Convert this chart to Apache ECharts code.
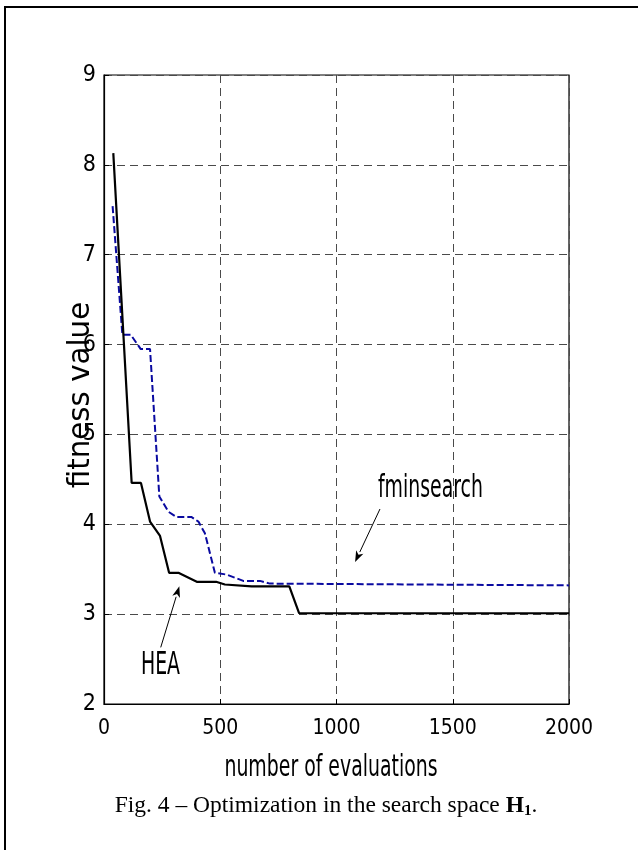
<!DOCTYPE html>
<html>
<head>
<meta charset="utf-8">
<script src="https://cdn.jsdelivr.net/npm/echarts@6/dist/echarts.min.js"></script>
<style>
html,body{margin:0;padding:0;background:#fff;}
#chart{width:638px;height:850px;}
</style>
</head>
<body>
<div id="chart"></div>
<script>
// ---- data ----
var xTicks = [0, 500, 1000, 1500, 2000];
var yTicks = [2, 3, 4, 5, 6, 7, 8, 9];

var heaX = [40, 119, 159, 198, 241, 280, 320, 399, 482, 520, 635, 797, 839, 2000];
var heaY = [8.13, 4.46, 4.46, 4.03, 3.87, 3.46, 3.46, 3.36, 3.36, 3.33, 3.31, 3.31, 3.01, 3.01];

var fminX = [37, 79, 115, 158, 198, 238, 277, 312, 377, 406, 434, 477, 528, 599, 671, 714, 2000];
var fminY = [7.54, 6.11, 6.11, 5.95, 5.95, 4.31, 4.14, 4.08, 4.08, 4.03, 3.90, 3.46, 3.44, 3.37, 3.37, 3.34, 3.32];

// annotations (data coordinates)
var heaLabel = {text: 'HEA', at: [243, 2.42], tail: [244, 2.63], tip: [324, 3.31]};
var fminLabel = {text: 'fminsearch', at: [1404, 4.39], tail: [1187, 4.17], tip: [1080, 3.58]};

var xTitle = 'number of evaluations';
var yTitle = 'fitness value';
var captionText = 'Fig. 4 \u2013 Optimization in the search space ';

function zip(xs, ys) { return xs.map(function (x, i) { return [x, ys[i]]; }); }

var NARROW = "'DejaVu Sans Condensed','Liberation Sans Narrow','Arial Narrow',sans-serif";
var SERIF = "'Liberation Serif','Times New Roman',serif";

var chart = echarts.init(document.getElementById('chart'), null, {renderer: 'canvas'});

var option = {
  animation: false,
  backgroundColor: '#fff',
  grid: {left: 104, top: 75, right: 69, bottom: 146, show: true, borderColor: '#000', borderWidth: 1.2, backgroundColor: 'transparent'},
  xAxis: {
    type: 'value', min: xTicks[0], max: xTicks[xTicks.length - 1], interval: 500,
    axisLine: {show: true, lineStyle: {color: '#000', width: 1.2}},
    axisTick: {show: true, inside: true, length: 5, lineStyle: {color: '#000'}},
    axisLabel: {color: '#000', fontFamily: NARROW, fontSize: 21, margin: 14, formatter: function (v) { return String(v); }},
    splitLine: {show: true, lineStyle: {color: '#4a4a4a', type: [8, 5], width: 1}}
  },
  yAxis: {
    type: 'value', min: yTicks[0], max: yTicks[yTicks.length - 1], interval: 1,
    axisLine: {show: true, lineStyle: {color: '#000', width: 1.2}},
    axisTick: {show: true, inside: true, length: 5, lineStyle: {color: '#000'}},
    axisLabel: {color: '#000', fontFamily: NARROW, fontSize: 23, margin: 8, formatter: function (v) { return String(v); }},
    splitLine: {show: true, lineStyle: {color: '#4a4a4a', type: [8, 5], width: 1}}
  },
  series: [
    {
      name: 'fminsearch', type: 'line', data: zip(fminX, fminY), showSymbol: false, symbol: 'none',
      lineStyle: {color: '#0a0aa0', width: 2, type: [7, 3]}, z: 3
    },
    {
      name: 'HEA', type: 'line', data: zip(heaX, heaY), showSymbol: false, symbol: 'none',
      lineStyle: {color: '#000', width: 2.2}, z: 4
    }
  ]
};
chart.setOption(option);

function px(p) { return chart.convertToPixel({gridIndex: 0}, p); }

function arrow(tail, tip) {
  var a = px(tail), b = px(tip);
  var dx = b[0] - a[0], dy = b[1] - a[1];
  var len = Math.sqrt(dx * dx + dy * dy);
  var ux = dx / len, uy = dy / len;
  var hl = 11, hw = 4;
  var bx = b[0] - ux * hl, by = b[1] - uy * hl;
  return [
    {type: 'line', shape: {x1: a[0], y1: a[1], x2: bx, y2: by}, style: {stroke: '#000', lineWidth: 1}, z: 10},
    {type: 'polygon', shape: {points: [[b[0], b[1]], [bx - uy * hw, by + ux * hw], [b[0] - ux * (hl - 3), b[1] - uy * (hl - 3)], [bx + uy * hw, by - ux * hw]]},
      style: {fill: '#000'}, z: 10}
  ];
}

function label(l) {
  var p = px(l.at);
  return {type: 'text', x: p[0], y: p[1], scaleY: 1.5, z: 10,
    style: {text: l.text, fill: '#000', font: '21px ' + NARROW, textAlign: 'center', textVerticalAlign: 'middle'}};
}

var g = [];
g = g.concat(arrow(heaLabel.tail, heaLabel.tip));
g = g.concat(arrow(fminLabel.tail, fminLabel.tip));
g.push(label(heaLabel));
g.push(label(fminLabel));
// y axis title
g.push({type: 'text', x: 81, y: 395, rotation: Math.PI / 2, scaleX: 1.05, z: 10,
  style: {text: yTitle, fill: '#000', font: '31px ' + NARROW, textAlign: 'center', textVerticalAlign: 'middle'}});
// x axis title
g.push({type: 'text', x: 331, y: 768, scaleY: 1.45, z: 10,
  style: {text: xTitle, fill: '#000', font: '21px ' + NARROW, textAlign: 'center', textVerticalAlign: 'middle'}});
// caption
g.push({type: 'text', x: 326, y: 806, z: 10,
  style: {
    text: '{n|' + captionText + '}{b|H}{s|1}{n|.}',
    textAlign: 'center', textVerticalAlign: 'middle',
    rich: {
      n: {fontFamily: SERIF, fontSize: 23.5, fill: '#000', color: '#000'},
      b: {fontFamily: SERIF, fontSize: 23.5, fontWeight: 'bold', fill: '#000', color: '#000'},
      s: {fontFamily: SERIF, fontSize: 15, fontWeight: 'bold', fill: '#000', color: '#000', padding: [10, 0, 0, 0]}
    }
  }});
// outer frame (left and top edges visible)
g.push({type: 'polyline', shape: {points: [[5, 850], [5, 7], [638, 7]]}, style: {stroke: '#000', lineWidth: 2, fill: null}, z: 10});

chart.setOption({graphic: g});
</script>
</body>
</html>
